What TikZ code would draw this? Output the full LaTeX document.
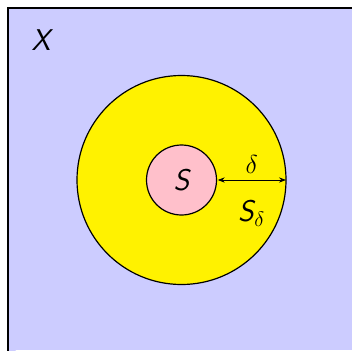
\RequirePackage{fix-cm}
\documentclass[tikz,border=0pt]{standalone}
\usepackage{fontspec}
\usetikzlibrary{arrows.meta}
\definecolor{lav}{RGB}{204,204,255}
\definecolor{pinkc}{RGB}{255,192,203}
\begin{document}
\begin{tikzpicture}[x=1pt,y=-1pt,
  lbl/.style={font=\fontsize{30}{34}\selectfont\sffamily\itshape, inner sep=0pt},
  ring/.style={draw=black, line width=1.2pt}]
\useasboundingbox (0,0) rectangle (352,350);
\fill[white] (0,0) rectangle (352,350);
\draw[fill=lav, line width=1.5pt] (8,358) -- (8,8) -- (360,8);
\fill[lav] (8.75,8.75) rectangle (352,350);
\node[ring, fill=yellow, circle, minimum size=209pt, inner sep=0pt] (big) at (181.5,180) {};
\node[ring, fill=pinkc, circle, minimum size=70pt, inner sep=0pt] (small) at (181.5,180) {};
\node[lbl] (S) at (small) {S};
\node[lbl] (X) at (41,40.5) {X};
\draw[{Stealth[length=7pt]}-{Stealth[length=7pt]}, line width=1pt, shorten <=0.6pt, shorten >=0.6pt] (small.east) -- (big.east) node[midway, above=6pt, inner sep=0pt, font=\fontsize{26}{30}\selectfont] (d) {$\delta$};
\node[lbl, anchor=base west] (Sd) at (238,221) {S\kern0.5pt\raisebox{-5pt}{\fontsize{21}{24}\selectfont$\delta$}};
\end{tikzpicture}
\end{document}
